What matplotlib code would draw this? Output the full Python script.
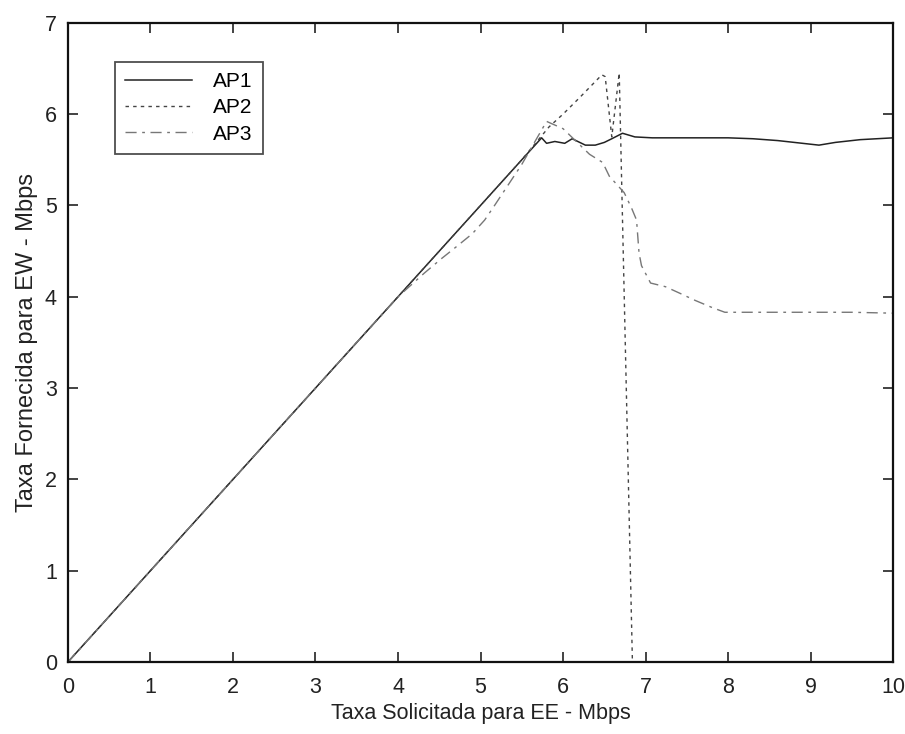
import matplotlib
matplotlib.use("Agg")
import matplotlib.pyplot as plt

# (Mbps)
ap1_x = [0, 1, 2, 3, 4, 5, 5.74, 5.8, 5.9, 6.02, 6.11, 6.27, 6.39, 6.5, 6.59, 6.72,
         6.87, 7.08, 7.5, 8.0, 8.3, 8.6, 8.9, 9.1, 9.3, 9.6, 10]
ap1_y = [0, 1, 2, 3, 4, 5, 5.74, 5.68, 5.7, 5.68, 5.73, 5.66, 5.66, 5.69, 5.73, 5.79,
         5.75, 5.74, 5.74, 5.74, 5.73, 5.71, 5.68, 5.66, 5.69, 5.72, 5.74]

ap2_x = [0, 1, 2, 3, 4, 5, 5.5, 5.83, 6.0, 6.2, 6.47, 6.51, 6.59, 6.68, 6.84, 7, 8, 9, 10]
ap2_y = [0, 1, 2, 3, 4, 5, 5.5, 5.86, 6.0, 6.18, 6.43, 6.41, 5.75, 6.45, 0, 0, 0, 0, 0]

ap3_x = [0, 1, 2, 3, 4, 4.32, 4.53, 4.71, 4.9, 5.05, 5.17, 5.28, 5.5, 5.8, 6.0, 6.16,
         6.32, 6.48, 6.56, 6.74, 6.83, 6.89, 6.92, 6.95, 7.06, 7.24, 7.41, 7.6, 7.81,
         7.96, 8.5, 9.0, 9.5, 10]
ap3_y = [0, 1, 2, 3, 4, 4.26, 4.42, 4.55, 4.69, 4.84, 5.0, 5.15, 5.45, 5.92, 5.84, 5.7,
         5.56, 5.47, 5.32, 5.14, 4.97, 4.84, 4.48, 4.34, 4.15, 4.11, 4.04, 3.96, 3.88,
         3.83, 3.83, 3.83, 3.83, 3.82]

series_labels = ["AP1", "AP2", "AP3"]
x_ticks = list(range(0, 11))
y_ticks = list(range(0, 8))

plt.rcParams["font.family"] = ["Liberation Sans", "DejaVu Sans"]

fig = plt.figure(figsize=(9.05, 7.34), dpi=100)
ax = fig.add_axes([0.075, 0.098, 0.912, 0.871])

ax.plot(ap1_x, ap1_y, color="#222222", lw=1.1, linestyle="-", label=series_labels[0])
ax.plot(ap2_x, ap2_y, color="#444444", lw=1.0, linestyle=(0, (2.5, 3)), label=series_labels[1])
ax.plot(ap3_x, ap3_y, color="#777777", lw=1.0, linestyle=(0, (8, 4, 2, 4)), label=series_labels[2])

ax.set_xlim(0, 10)
ax.set_ylim(0, 7)
ax.set_xticks(x_ticks)
ax.set_yticks(y_ticks)
ax.tick_params(direction="in", length=7, width=1.2, top=True, right=True,
               labelsize=15.5, colors="#222222")
ax.tick_params(axis="x", pad=11)
ax.tick_params(axis="y", pad=8)
for s in ax.spines.values():
    s.set_linewidth(1.6)
    s.set_color("#111111")

ax.set_xlabel("Taxa Solicitada para EE - Mbps", fontsize=15.5, color="#222222", labelpad=3)
ax.set_ylabel("Taxa Fornecida para EW - Mbps", fontsize=17, color="#222222", labelpad=5)

leg = ax.legend(loc="upper left", bbox_to_anchor=(0.057, 0.939), borderaxespad=0,
                fontsize=15, frameon=True, fancybox=False, edgecolor="#222222",
                handlelength=3.2, handletextpad=1.0, borderpad=0.5, labelspacing=0.35)
leg.get_frame().set_linewidth(1.3)

fig.savefig("out.png", dpi=100)
